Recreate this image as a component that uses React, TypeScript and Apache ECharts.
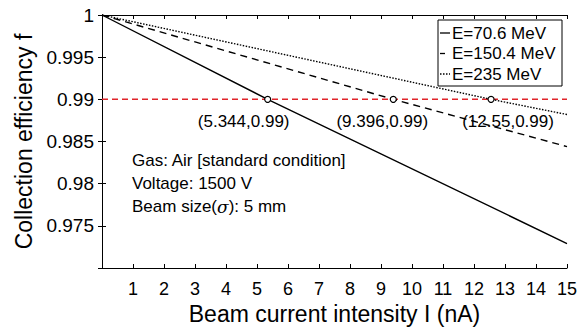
import React, { useEffect, useRef } from "react";
import * as echarts from "echarts";

const seriesNames = ["E=70.6 MeV", "E=150.4 MeV", "E=235 MeV"];
const curve70: [number, number][] = [[0, 1], [5.344, 0.99], [15, 0.9729]];
const curve150: [number, number][] = [[0, 1], [9.396, 0.99], [15, 0.9844]];
const curve235: [number, number][] = [[0, 1], [12.55, 0.99], [15, 0.9882]];
const thresholdValue = 0.99;
const crossX = [5.344, 9.396, 12.55];
const crossLabels = ["(5.344,0.99)", "(9.396,0.99)", "(12.55,0.99)"];
const yTicks = [0.975, 0.98, 0.985, 0.99, 0.995, 1];
const notes = ["Gas: Air [standard condition]", "Voltage: 1500 V", "Beam size({s|σ}): 5 mm"];

const FONT = "'Liberation Sans', Arial, Helvetica, sans-serif";

export default function App() {
  const ref = useRef<HTMLDivElement>(null);
  useEffect(() => {
    if (!ref.current) return;
    const chart = echarts.init(ref.current, undefined, { renderer: "svg" });
    const labelOffsets = [[-24, 22], [-11, 22], [17, 22]];
    const dashes: any[] = ["solid", [7, 5], [1.5, 1.5]];
    const curves = [curve70, curve150, curve235];
    const axisCommon = {
      axisLine: { show: true, lineStyle: { color: "#000", width: 1 } },
      axisTick: { show: true, inside: true, length: 4, lineStyle: { color: "#000" } },
      splitLine: { show: false },
    };
    // legend drawn with graphic elements
    const legX = 438, legY = 20, legW = 124, rowH = 20.5;
    const legendGraphics: any[] = [
      {
        type: "rect",
        shape: { x: legX, y: legY, width: legW, height: 66 },
        style: { fill: "#fff", stroke: "#000", lineWidth: 1 },
        z: 10,
      },
    ];
    seriesNames.forEach((n, i) => {
      const cy = legY + 13 + i * rowH;
      legendGraphics.push({
        type: "line",
        shape: { x1: legX + 2, y1: cy, x2: legX + 12, y2: cy },
        style: { stroke: "#000", lineWidth: 1.3, lineDash: i === 0 ? null : i === 1 ? [5, 5] : [1.5, 1.5] },
        z: 11,
      });
      legendGraphics.push({
        type: "text",
        x: legX + 14,
        y: cy,
        style: { text: n, fontSize: 17, fill: "#000", fontFamily: FONT, verticalAlign: "middle", align: "left" },
        z: 11,
      });
    });
    const option: any = {
      animation: false,
      backgroundColor: "#fff",
      textStyle: { fontFamily: FONT },
      grid: { left: 102, right: 18, top: 15, bottom: 63 },
      xAxis: [
        {
          type: "value",
          min: 0,
          max: 15,
          interval: 1,
          position: "bottom",
          name: "Beam current intensity I (nA)",
          nameLocation: "middle",
          nameGap: 28,
          nameTextStyle: { fontSize: 23, color: "#000", fontFamily: FONT },
          axisLabel: { fontSize: 18, color: "#000", margin: 12, showMinLabel: false, fontFamily: FONT },
          ...axisCommon,
        },
        {
          type: "value",
          min: 0,
          max: 15,
          interval: 1,
          position: "top",
          axisLabel: { show: false },
          ...axisCommon,
        },
      ],
      yAxis: [
        {
          type: "value",
          min: 0.97,
          max: 1,
          interval: 0.005,
          position: "left",
          name: "Collection efficiency f",
          nameLocation: "middle",
          nameGap: 66,
          nameTextStyle: { fontSize: 23, color: "#000", fontFamily: FONT },
          axisLabel: {
            fontSize: 19,
            color: "#000",
            margin: 8,
            fontFamily: FONT,
            formatter: (v: number) => {
              const r = Math.round(v * 1000) / 1000;
              return yTicks.some((t) => Math.abs(t - r) < 1e-6) ? String(r) : "";
            },
          },
          ...axisCommon,
        },
        {
          type: "value",
          min: 0.97,
          max: 1,
          interval: 0.005,
          position: "right",
          axisLabel: { show: false },
          ...axisCommon,
        },
      ],
      series: [
        ...curves.map((c, i) => ({
          name: seriesNames[i],
          type: "line",
          data: c,
          symbol: "none",
          color: "#000",
          lineStyle: { color: "#000", type: dashes[i], width: 1.4 },
          z: 3,
        })),
        {
          name: "threshold",
          type: "line",
          data: [[0, thresholdValue], [15, thresholdValue]],
          symbol: "none",
          lineStyle: { color: "#e0242a", type: [6, 4], width: 1.5 },
          z: 2,
        },
        {
          name: "cross",
          type: "scatter",
          data: crossX.map((x, i) => ({
            value: [x, thresholdValue],
            label: {
              show: true,
              formatter: crossLabels[i],
              position: "inside",
              offset: labelOffsets[i],
              fontSize: 17,
              color: "#000",
              opacity: 1,
              textBorderWidth: 0,
              textBorderColor: "transparent",
              fontFamily: FONT,
            },
          })),
          symbol: "circle",
          symbolSize: 6,
          itemStyle: { color: "#fff", borderColor: "#000", borderWidth: 1.2, opacity: 1 },
          z: 4,
        },
      ],
      graphic: [
        ...notes.map((t, i) => ({
          type: "text",
          left: 132,
          top: 152 + i * 23,
          style: {
            text: t,
            fontSize: 17,
            fill: "#000",
            fontFamily: FONT,
            rich: {
              s: { fontSize: 17, fontStyle: "italic", fontFamily: "'DejaVu Serif', serif", fill: "#000" },
            },
          },
        })),
        ...legendGraphics,
      ],
    };
    chart.setOption(option);
    return () => chart.dispose();
  }, []);
  return <div ref={ref} style={{ width: 585, height: 331, position: "fixed", left: 0, top: 0 }} />;
}
